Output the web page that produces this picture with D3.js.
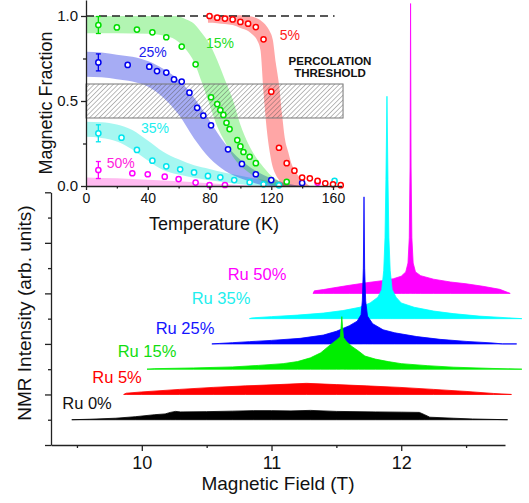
<!DOCTYPE html>
<html><head><meta charset="utf-8">
<script src="https://cdn.jsdelivr.net/npm/d3@7"></script>
<style>body{margin:0;background:#fff}svg{display:block;font-family:Arial,"Liberation Sans",sans-serif}</style>
</head><body><svg id="c" width="529" height="503"></svg>
<script>
// ---------- MAIN PLOT DATA (field in T, height in stacked units) ----------
const specLabels = ["Ru 0%","Ru 5%","Ru 15%","Ru 25%","Ru 35%","Ru 50%"];
const specColors = ["#000000","#ff0000","#00ee00","#0000ff","#00ffff","#ff00ff"];
const labelColors = ["#111111","#ff0000","#11dd11","#1414ff","#22eeee","#ff00ff"];
const specOffsets = [1,2,3,4,5,6];
const spec0 = [[9.46,0],[9.6,0.02],[9.8,0.06],[9.95,0.12],[10.1,0.2],[10.18,0.23],[10.22,0.29],[10.26,0.33],[10.3,0.31],[10.5,0.32],[10.7,0.34],[10.86,0.36],[11.0,0.36],[11.15,0.35],[11.3,0.37],[11.5,0.33],[11.8,0.31],[12.0,0.3],[12.14,0.29],[12.18,0.2],[12.22,0.1],[12.4,0.06],[12.55,0.03],[12.82,0]];
const spec5 = [[9.86,0],[9.88,0.05],[10.0,0.1],[10.29,0.2],[10.55,0.28],[10.8,0.34],[11.05,0.39],[11.27,0.44],[11.5,0.39],[11.73,0.34],[11.99,0.28],[12.25,0.2],[12.5,0.12],[12.71,0.04],[12.85,0]];
const spec15 = [[10.04,0],[10.1,0.02],[10.4,0.05],[10.7,0.09],[10.9,0.15],[11.09,0.22],[11.2,0.3],[11.3,0.45],[11.38,0.65],[11.45,0.95],[11.5,1.15],[11.53,1.28],[11.537,1.7],[11.542,2.08],[11.547,1.7],[11.555,1.25],[11.58,1.08],[11.62,0.9],[11.67,0.72],[11.72,0.52],[11.8,0.4],[11.9,0.3],[12.0,0.22],[12.2,0.14],[12.4,0.08],[12.7,0.03],[12.93,0]];
const spec25 = [[10.54,0],[10.6,0.02],[10.7,0.05],[10.83,0.09],[11.0,0.14],[11.22,0.22],[11.4,0.35],[11.5,0.5],[11.6,0.72],[11.66,0.9],[11.69,1.15],[11.7,1.7],[11.708,3],[11.713,5.82],[11.718,3],[11.726,1.7],[11.74,1.1],[11.78,0.8],[11.86,0.56],[11.95,0.44],[12.12,0.29],[12.3,0.18],[12.5,0.1],[12.7,0.04],[12.78,0],[12.89,0]];
const spec35 = [[10.83,0],[10.85,0.03],[11.0,0.08],[11.2,0.14],[11.4,0.22],[11.55,0.32],[11.68,0.45],[11.76,0.62],[11.82,0.85],[11.85,1.15],[11.865,1.9],[11.875,3.2],[11.882,5.5],[11.89,8.8],[11.898,5.5],[11.905,3.2],[11.915,1.9],[11.93,1.15],[11.96,0.85],[12.0,0.62],[12.1,0.45],[12.25,0.3],[12.4,0.2],[12.6,0.1],[12.8,0.04],[12.93,0]];
const spec50 = [[11.32,0],[11.33,0.1],[11.4,0.15],[11.48,0.22],[11.6,0.32],[11.73,0.42],[11.85,0.5],[11.94,0.58],[12.0,0.68],[12.035,0.85],[12.052,1.2],[12.062,2.2],[12.068,5],[12.072,11.47],[12.076,5],[12.082,2.2],[12.092,1.2],[12.11,0.85],[12.15,0.7],[12.25,0.56],[12.38,0.45],[12.5,0.38],[12.63,0.28],[12.76,0.16],[12.84,0]];
const spectra = [spec0,spec5,spec15,spec25,spec35,spec50];
const fieldMajorTicks = [10,11,12];
const fieldMinorTicks = [9.5,10.5,11.5,12.5];

// ---------- INSET DATA (temperature in K, magnetic fraction) ----------
const tRed = [80,85,90,95,100,105,110,115,120,125,130,135,140,145,150,155,160,165];
const fRed = [1.0,0.99,0.985,0.98,0.965,0.955,0.935,0.863,0.555,0.225,0.134,0.09,0.05,0.045,0.03,0.016,0.01,0.005];
const tGreen = [8,20,33,43,52,62,71,81,85,87,89,91,93,98,100,102,106,110,130];
const fGreen = [0.947,0.933,0.92,0.904,0.875,0.82,0.716,0.522,0.482,0.447,0.418,0.372,0.335,0.27,0.233,0.2,0.172,0.134,0.025];
const tBlue = [8,27,41,46,52,57,62,67,72,76,81,92,101,110,120,140];
const fBlue = [0.727,0.712,0.702,0.676,0.667,0.627,0.614,0.549,0.46,0.414,0.357,0.216,0.13,0.069,0.035,0.018];
const tCyan = [8,23,33,43,52,61,70,79,87,96,106,115,125,161];
const fCyan = [0.31,0.284,0.212,0.149,0.116,0.098,0.08,0.059,0.051,0.035,0.022,0.01,0.004,0.03];
const tMag = [8,30,40,51,60,71,80,90,150];
const fMag = [0.094,0.075,0.069,0.055,0.041,0.02,0.006,0.006,0.02];
const errBar = 0.05;

// band edges (T, lower, upper)
const bandRedT  = [79,85,90,95,100,105,108,111,113,115,117,119,121,123,125,127,129,131,133,136,140,145];
const bandRedLo = [0.96,0.958,0.953,0.947,0.93,0.912,0.89,0.855,0.8,0.55,0.34,0.2,0.11,0.065,0.035,0,0,0,0,0,0,0];
const bandRedHi = [1.005,1.005,1.005,1.005,1.005,1.0,0.995,0.985,0.975,0.96,0.94,0.91,0.86,0.72,0.6,0.42,0.27,0.2,0.134,0.08,0.035,0];
const bandGreenT  = [0,20,40,50,58,65,70,75,80,85,90,95,100,105,110,115,120,125,130,134];
const bandGreenLo = [0.898,0.898,0.895,0.885,0.86,0.8,0.73,0.61,0.48,0.35,0.26,0.175,0.12,0.082,0.05,0.025,0.008,0,0,0];
const bandGreenHi = [1.0,1.0,1.0,1.0,1.0,0.98,0.955,0.9,0.835,0.74,0.625,0.51,0.36,0.25,0.17,0.11,0.06,0.03,0.008,0];
const bandBlueT  = [0,10,20,30,40,50,60,70,80,90,100,110,120,130,140];
const bandBlueLo = [0.643,0.64,0.628,0.614,0.585,0.52,0.42,0.28,0.165,0.09,0.045,0.015,0,0,0];
const bandBlueHi = [0.79,0.785,0.772,0.76,0.735,0.69,0.625,0.52,0.385,0.25,0.155,0.09,0.045,0.015,0];
const bandCyanT  = [0,10,20,30,40,50,60,70,80,90,100,115,130,140];
const bandCyanLo = [0.29,0.283,0.262,0.215,0.15,0.094,0.067,0.048,0.034,0.022,0.01,0,0,0];
const bandCyanHi = [0.378,0.375,0.362,0.33,0.268,0.202,0.157,0.122,0.1,0.078,0.06,0.035,0.012,0];
const bandMagT  = [0,20,40,60,80,100,115];
const bandMagLo = [0,0,0,0,0,0,0];
const bandMagHi = [0.05,0.045,0.037,0.028,0.016,0.006,0];
const tempMajorTicks = [0,40,80,120,160];
const tempMinorTicks = [20,60,100,140];
const fracMajorTicks = [0,0.5,1.0];
const fracMinorTicks = [0.25,0.75];

// ---------- DRAW ----------
const svg = d3.select("#c");
svg.append("rect").attr("width",529).attr("height",503).attr("fill","#fff");
const axisColor = "#222";

// main scales
const xM = d3.scaleLinear().domain([9.3,12.8]).range([51,505]);
const yM = d3.scaleLinear().domain([0,10]).range([445,192.3]);

// spectra (top ones drawn first so lower spikes sit in front)
for (let i = spectra.length-1; i >= 0; i--) {
  const off = specOffsets[i];
  const area = d3.area().x(d=>xM(d[0])).y0(yM(off)).y1(d=>yM(off+d[1])).curve(d3.curveLinear);
  svg.append("path").attr("d",area(spectra[i])).attr("fill",specColors[i])
     .attr("stroke",specColors[i]).attr("stroke-width",0.8).attr("stroke-linejoin","round");
}
// Ru labels
const ruPos = [[87,409],[117,383],[147,356.5],[185,334],[221,304],[257,280]];
specLabels.forEach((t,i)=>{
  svg.append("text").attr("x",ruPos[i][0]).attr("y",ruPos[i][1]).attr("text-anchor","middle")
    .attr("font-size",16.5).attr("fill",labelColors[i]).text(t);
});

// main axes
function styleAxis(g){ g.selectAll("path,line").attr("stroke",axisColor).attr("stroke-width",1.3); g.selectAll("text").attr("fill","#111"); }
const gx = svg.append("g").attr("transform","translate(0,445)")
  .call(d3.axisBottom(xM).tickValues(fieldMajorTicks).tickSize(6).tickSizeOuter(0).tickPadding(5).tickFormat(d3.format("d")));
gx.selectAll("text").attr("font-size",18).attr("font-family","Arial,'Liberation Sans',sans-serif");
styleAxis(gx);
const gx2 = svg.append("g").attr("transform","translate(0,445)")
  .call(d3.axisBottom(xM).tickValues(fieldMinorTicks).tickSize(3).tickFormat(""));
gx2.select(".domain").remove(); styleAxis(gx2);
const gy = svg.append("g").attr("transform","translate(51,0)")
  .call(d3.axisLeft(yM).tickValues([0,2,4,6,8,10]).tickSize(6).tickSizeOuter(0).tickFormat(""));
styleAxis(gy);
const gy2 = svg.append("g").attr("transform","translate(51,0)")
  .call(d3.axisLeft(yM).tickValues([1,3,5,7,9]).tickSize(3).tickFormat(""));
gy2.select(".domain").remove(); styleAxis(gy2);
svg.append("text").attr("x",278).attr("y",490).attr("text-anchor","middle").attr("font-size",19).attr("fill","#111").text("Magnetic Field (T)");
svg.append("text").attr("transform","translate(31,313) rotate(-90)").attr("text-anchor","middle").attr("font-size",19).attr("fill","#111").text("NMR Intensity (arb. units)");

// ---------- INSET ----------
const xI = d3.scaleLinear().domain([0,165.5]).range([86,341.5]);
const yI = d3.scaleLinear().domain([0,1.0941]).range([186,0]);
const ins = svg.append("g");

function band(T,lo,hi,color,op){
  const data = T.map((t,i)=>[t,lo[i],hi[i]]);
  const a = d3.area().x(d=>xI(d[0])).y0(d=>yI(d[1])).y1(d=>yI(d[2])).curve(d3.curveMonotoneX);
  ins.append("path").attr("d",a(data)).attr("fill",color).attr("fill-opacity",op);
}
band(bandMagT,bandMagLo,bandMagHi,"#ff30d0",0.33);
band(bandCyanT,bandCyanLo,bandCyanHi,"#00e8d8",0.35);
band(bandBlueT,bandBlueLo,bandBlueHi,"#0010e0",0.35);
band(bandGreenT,bandGreenLo,bandGreenHi,"#00dd00",0.3);
band(bandRedT,bandRedLo,bandRedHi,"#ff0000",0.35);

// hatch
const defs = svg.append("defs");
const pat = defs.append("pattern").attr("id","hatch").attr("patternUnits","userSpaceOnUse")
  .attr("width",3.4).attr("height",3.4).attr("patternTransform","rotate(45)");
pat.append("line").attr("x1",0).attr("y1",0).attr("x2",0).attr("y2",3.4).attr("stroke","#555").attr("stroke-width",0.8);
ins.append("rect").attr("x",xI(0)).attr("y",yI(0.6)).attr("width",xI(166.5)-xI(0)).attr("height",yI(0.4)-yI(0.6))
  .attr("fill","url(#hatch)").attr("stroke","#777").attr("stroke-width",1);

// dashed line at 1.0
ins.append("line").attr("x1",xI(0)).attr("x2",xI(161)).attr("y1",yI(1)).attr("y2",yI(1))
  .attr("stroke","#222").attr("stroke-width",1.3).attr("stroke-dasharray","8,5");

// points
function pts(T,F,color,err){
  if (err){
    const x = xI(T[0]);
    ins.append("line").attr("x1",x).attr("x2",x).attr("y1",yI(F[0]-err)).attr("y2",yI(F[0]+err)).attr("stroke",color).attr("stroke-width",1.3);
    [F[0]-err,F[0]+err].forEach(v=>ins.append("line").attr("x1",x-2.5).attr("x2",x+2.5).attr("y1",yI(v)).attr("y2",yI(v)).attr("stroke",color).attr("stroke-width",1.3));
  }
  T.forEach((t,i)=>{
    ins.append("circle").attr("cx",xI(t)).attr("cy",yI(F[i])).attr("r",2.6)
      .attr("fill","#fff").attr("stroke",color).attr("stroke-width",1.5);
  });
}
pts(tMag,fMag,"#ff00ff",errBar);
pts(tCyan,fCyan,"#00e5ee",errBar);
pts(tBlue,fBlue,"#0000ee",errBar);
pts(tGreen,fGreen,"#00dd00",errBar);
pts(tRed,fRed,"#ff0000",0);

// inset labels
const insetLabels = [["5%",132,0.888,"#ff2020"],["15%",86.8,0.84,"#22dd22"],["25%",43.2,0.79,"#2020ee"],["35%",44.7,0.34,"#22eeee"],["50%",22.5,0.134,"#ff22dd"]];
insetLabels.forEach(l=>{
  ins.append("text").attr("x",xI(l[1])).attr("y",yI(l[2])+5).attr("text-anchor","middle")
    .attr("font-size",14).attr("fill",l[3]).text(l[0]);
});
ins.append("text").attr("x",330).attr("y",65).attr("text-anchor","middle").attr("font-size",11.5).attr("font-weight","bold").attr("fill","#111").text("PERCOLATION");
ins.append("text").attr("x",330).attr("y",77).attr("text-anchor","middle").attr("font-size",11.5).attr("font-weight","bold").attr("fill","#111").text("THRESHOLD");

// inset axes
const ix = ins.append("g").attr("transform","translate(0,186)")
  .call(d3.axisBottom(xI).tickValues(tempMajorTicks).tickSize(4).tickSizeOuter(0).tickPadding(3).tickFormat(d3.format("d")));
ix.selectAll("text").attr("font-size",14).attr("font-family","Arial,'Liberation Sans',sans-serif");
styleAxis(ix);
const ix2 = ins.append("g").attr("transform","translate(0,186)")
  .call(d3.axisBottom(xI).tickValues(tempMinorTicks).tickSize(2.5).tickFormat(""));
ix2.select(".domain").remove(); styleAxis(ix2);
const iy = ins.append("g").attr("transform","translate(86,0)")
  .call(d3.axisLeft(yI).tickValues(fracMajorTicks).tickSize(5).tickSizeOuter(0).tickPadding(3).tickFormat(d3.format(".1f")));
iy.selectAll("text").attr("font-size",15).attr("font-family","Arial,'Liberation Sans',sans-serif");
styleAxis(iy);
const iy2 = ins.append("g").attr("transform","translate(86,0)")
  .call(d3.axisLeft(yI).tickValues(fracMinorTicks).tickSize(3).tickFormat(""));
iy2.select(".domain").remove(); styleAxis(iy2);
ins.append("text").attr("x",214).attr("y",230).attr("text-anchor","middle").attr("font-size",18).attr("fill","#111").text("Temperature (K)");
ins.append("text").attr("transform","translate(52,103) rotate(-90)").attr("text-anchor","middle").attr("font-size",18).attr("fill","#111").text("Magnetic Fraction");
</script></body></html>
